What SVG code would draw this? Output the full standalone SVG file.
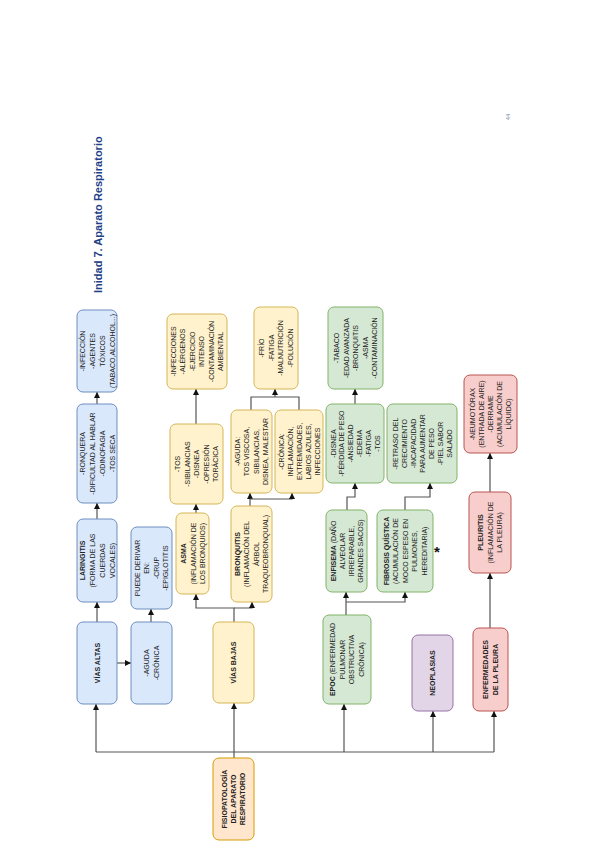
<svg xmlns="http://www.w3.org/2000/svg" width="600" height="848" viewBox="0 0 600 848">
<style>
.b{fill:#dae8fc;stroke:#6c8ebf;stroke-width:1}
.o{fill:#fff2cc;stroke:#d6b656;stroke-width:1}
.r{fill:#ffe6cc;stroke:#d79b00;stroke-width:1}
.g{fill:#d5e8d4;stroke:#82b366;stroke-width:1}
.p{fill:#e1d5e7;stroke:#9673a6;stroke-width:1}
.k{fill:#f8cecc;stroke:#b85450;stroke-width:1}
text{font-family:"Liberation Sans",Arial,sans-serif;font-size:7px;fill:#222;text-anchor:middle}
.bd{font-weight:bold}
.c path{fill:none;stroke:#555;stroke-width:1.2}
</style>
<defs>
<marker id="a" markerUnits="userSpaceOnUse" markerWidth="8" markerHeight="8" refX="6" refY="3" orient="auto">
<path d="M0,0 L6,3 L0,6 Z" fill="#111"/>
</marker>
</defs>
<rect width="600" height="848" fill="#fff"/>
<text transform="translate(102,293) rotate(-90)" style="font-size:11px;font-weight:bold;fill:#1f3f86;text-anchor:start">Inidad 7. Aparato Respiratorio</text>
<text transform="translate(510,117) rotate(-90)" style="font-size:6px;fill:#7a8aa8">44</text>
<g class="c">
<path d="M96,752 H494"/>
<path d="M96,752 V704" marker-end="url(#a)"/>
<path d="M234,758 V703" marker-end="url(#a)"/>
<path d="M344,752 V704" marker-end="url(#a)"/>
<path d="M433,752 V711" marker-end="url(#a)"/>
<path d="M494,752 V711" marker-end="url(#a)"/>
<path d="M97,622 V602" marker-end="url(#a)"/>
<path d="M97,519 V503" marker-end="url(#a)"/>
<path d="M97,404 V392" marker-end="url(#a)"/>
<path d="M117,663 H131" marker-end="url(#a)"/>
<path d="M151,622 V609" marker-end="url(#a)"/>
<path d="M234,622 V608 H196 V594" marker-end="url(#a)"/>
<path d="M234,608 H252 V602" marker-end="url(#a)"/>
<path d="M196,513 V504" marker-end="url(#a)"/>
<path d="M196,424 V389" marker-end="url(#a)"/>
<path d="M250,506 V493" marker-end="url(#a)"/>
<path d="M250,499 H292 V493" marker-end="url(#a)"/>
<path d="M251,410 V397 H299 V410"/>
<path d="M275,397 V389" marker-end="url(#a)"/>
<path d="M346,615 V592" marker-end="url(#a)"/>
<path d="M346,602 H405 V592" marker-end="url(#a)"/>
<path d="M347,510 V497 H355 V483" marker-end="url(#a)"/>
<path d="M355,404 V389" marker-end="url(#a)"/>
<path d="M405,510 V497 H430 V483" marker-end="url(#a)"/>
<path d="M490,628 V573" marker-end="url(#a)"/>
<path d="M490,492 V453" marker-end="url(#a)"/>
</g>
<g id="root"><rect class="r" x="213" y="758" width="41" height="82" rx="6"/>
<text class="bd" transform="rotate(-90 233.5 799)"><tspan x="233.5" y="792.7">FISIOPATOLOGÍA</tspan><tspan x="233.5" y="801.7">DEL APARATO</tspan><tspan x="233.5" y="810.7">RESPIRATORIO</tspan></text></g>
<g id="vias-altas"><rect class="b" x="77" y="622" width="40" height="82" rx="6"/>
<text class="bd" transform="rotate(-90 97 663)"><tspan x="97" y="665.5">VÍAS ALTAS</tspan></text></g>
<g id="aguda-cronica"><rect class="b" x="131" y="622" width="41" height="82" rx="6"/>
<text transform="rotate(-90 151.5 663)"><tspan x="151.5" y="660.5">-AGUDA</tspan><tspan x="151.5" y="670.5">-CRÓNICA</tspan></text></g>
<g id="laringitis"><rect class="b" x="77" y="519" width="40" height="83" rx="6"/>
<text transform="rotate(-90 97 560.5)"><tspan class="bd" x="97" y="548">LARINGITIS</tspan><tspan x="97" y="558">(FORMA DE LAS</tspan><tspan x="97" y="568">CUERDAS</tspan><tspan x="97" y="578">VOCALES)</tspan></text></g>
<g id="puede-derivar"><rect class="b" x="131" y="527" width="41" height="82" rx="6"/>
<text transform="rotate(-90 151.5 568)"><tspan x="151.5" y="556.3">PUEDE DERIVAR</tspan><tspan x="151.5" y="565.8">EN:</tspan><tspan x="151.5" y="575.3">-CRUP</tspan><tspan x="151.5" y="584.8">-EPIGLOTITIS</tspan></text></g>
<g id="laringitis-sintomas"><rect class="b" x="77" y="404" width="40" height="99" rx="6"/>
<text transform="rotate(-90 97 453.5)"><tspan x="97" y="441">-RONQUERA</tspan><tspan x="97" y="451">-DIFICULTAD AL HABLAR</tspan><tspan x="97" y="461">-ODINOFAGIA</tspan><tspan x="97" y="471">-TOS SECA</tspan></text></g>
<g id="laringitis-causas"><rect class="b" x="77" y="310" width="40" height="82" rx="6"/>
<text transform="rotate(-90 97 351)"><tspan x="97" y="338.5">-INFECCIÓN</tspan><tspan x="97" y="348.5">-AGENTES</tspan><tspan x="97" y="358.5">TÓXICOS</tspan><tspan x="97" y="368.5">(TABACO,ALCOHOL...)</tspan></text></g>
<g id="vias-bajas"><rect class="o" x="213" y="622" width="41" height="81" rx="6"/>
<text class="bd" transform="rotate(-90 233.5 662.5)"><tspan x="233.5" y="665">VÍAS BAJAS</tspan></text></g>
<g id="asma"><rect class="o" x="176" y="513" width="33" height="81" rx="6"/>
<text transform="rotate(-90 193 553.5)"><tspan class="bd" x="193" y="546.5">ASMA</tspan><tspan x="193" y="556">(INFLAMACIÓN DE</tspan><tspan x="193" y="565.5">LOS BRONQUIOS)</tspan></text></g>
<g id="asma-sintomas"><rect class="o" x="170" y="424" width="53" height="80" rx="6"/>
<text transform="rotate(-90 196.5 464)"><tspan x="196.5" y="447.5">-TOS</tspan><tspan x="196.5" y="457">-SIBILANCIAS</tspan><tspan x="196.5" y="466.5">-DISNEA</tspan><tspan x="196.5" y="476">-OPRESIÓN</tspan><tspan x="196.5" y="485.5">TORÁCICA</tspan></text></g>
<g id="asma-causas"><rect class="o" x="167" y="314" width="60" height="75" rx="6"/>
<text transform="rotate(-90 197 351.5)"><tspan x="197" y="330.3">-INFECCIONES</tspan><tspan x="197" y="339.8">-ALÉRGENOS</tspan><tspan x="197" y="349.3">-EJERCICIO</tspan><tspan x="197" y="358.8">INTENSO</tspan><tspan x="197" y="368.3">-CONTAMINACIÓN</tspan><tspan x="197" y="377.8">AMBIENTAL</tspan></text></g>
<g id="bronquitis"><rect class="o" x="231" y="506" width="41" height="96" rx="6"/>
<text transform="rotate(-90 251.5 554)"><tspan class="bd" x="251.5" y="542.3">BRONQUITIS</tspan><tspan x="251.5" y="551.8">(INFLAMACIÓN DEL</tspan><tspan x="251.5" y="561.3">ÁRBOL</tspan><tspan x="251.5" y="570.8">TRAQUEOBRONQUIAL)</tspan></text></g>
<g id="bronquitis-aguda"><rect class="o" x="231" y="410" width="41" height="83" rx="6"/>
<text transform="rotate(-90 251.5 451.5)"><tspan x="251.5" y="439.8">-AGUDA:</tspan><tspan x="251.5" y="449.3">TOS VISCOSA,</tspan><tspan x="251.5" y="458.8">SIBILANCIAS,</tspan><tspan x="251.5" y="468.3">DISNEA, MALESTAR</tspan></text></g>
<g id="bronquitis-cronica"><rect class="o" x="275" y="410" width="48" height="83" rx="6"/>
<text transform="rotate(-90 299 451.5)"><tspan x="299" y="436">-CRÓNICA:</tspan><tspan x="299" y="445">INFLAMACIÓN,</tspan><tspan x="299" y="454">EXTREMIDADES,</tspan><tspan x="299" y="463">LABIOS AZULES,</tspan><tspan x="299" y="472">INFECCIONES</tspan></text></g>
<g id="bronquitis-causas"><rect class="o" x="254" y="307" width="44" height="82" rx="6"/>
<text transform="rotate(-90 276 348)"><tspan x="276" y="336.3">-FRÍO</tspan><tspan x="276" y="345.8">-FATIGA</tspan><tspan x="276" y="355.3">-MALNUTRICIÓN</tspan><tspan x="276" y="364.8">-POLUCIÓN</tspan></text></g>
<g id="epoc"><rect class="g" x="323" y="615" width="48" height="89" rx="6"/>
<text transform="rotate(-90 347 659.5)"><tspan x="347" y="647.8"><tspan class="bd">EPOC</tspan> (ENFERMEDAD</tspan><tspan x="347" y="657.3">PULMONAR</tspan><tspan x="347" y="666.8">OBSTRUCTIVA</tspan><tspan x="347" y="676.3">CRÓNICA)</tspan></text></g>
<g id="enfisema"><rect class="g" x="326" y="510" width="41" height="82" rx="6"/>
<text transform="rotate(-90 346.5 551)"><tspan x="346.5" y="540"><tspan class="bd">ENFISEMA</tspan> (DAÑO</tspan><tspan x="346.5" y="549">ALVEOLAR</tspan><tspan x="346.5" y="558">IRREPARABLE,</tspan><tspan x="346.5" y="567">GRANDES SACOS)</tspan></text></g>
<g id="fibrosis"><rect class="g" x="377" y="510" width="56" height="82" rx="6"/>
<text transform="rotate(-90 405 551)"><tspan class="bd" x="405" y="534.5">FIBROSIS QUÍSTICA</tspan><tspan x="405" y="544">(ACUMULACIÓN DE</tspan><tspan x="405" y="553.5">MOCO ESPESO EN</tspan><tspan x="405" y="563">PULMONES,</tspan><tspan x="405" y="572.5">HEREDITARIA)</tspan></text>
<text transform="translate(437,557)" style="font-size:15px;font-weight:bold;fill:#111">*</text></g>
<g id="enfisema-sintomas"><rect class="g" x="326" y="404" width="58" height="79" rx="6"/>
<text transform="rotate(-90 355 443.5)"><tspan x="355" y="424">-DISNEA</tspan><tspan x="355" y="432.8">-PÉRDIDA DE PESO</tspan><tspan x="355" y="441.6">-ANSIEDAD</tspan><tspan x="355" y="450.4">-EDEMA</tspan><tspan x="355" y="459.2">-FATIGA</tspan><tspan x="355" y="468">-TOS</tspan></text></g>
<g id="enfisema-causas"><rect class="g" x="328" y="307" width="55" height="82" rx="6"/>
<text transform="rotate(-90 355.5 348)"><tspan x="355.5" y="331.5">-TABACO</tspan><tspan x="355.5" y="341">-EDAD AVANZADA</tspan><tspan x="355.5" y="350.5">-BRONQUITIS</tspan><tspan x="355.5" y="360">-ASMA</tspan><tspan x="355.5" y="369.5">-CONTAMINACIÓN</tspan></text></g>
<g id="fibrosis-sintomas"><rect class="g" x="387" y="404" width="70" height="79" rx="6"/>
<text transform="rotate(-90 422 443.5)"><tspan x="422" y="419">-RETRASO DEL</tspan><tspan x="422" y="428">CRECIMIENTO</tspan><tspan x="422" y="437">-INCAPACIDAD</tspan><tspan x="422" y="446">PARA AUMENTAR</tspan><tspan x="422" y="455">DE PESO</tspan><tspan x="422" y="464">-PIEL SABOR</tspan><tspan x="422" y="473">SALADO</tspan></text></g>
<g id="neoplasias"><rect class="p" x="412" y="635" width="41" height="76" rx="6"/>
<text class="bd" transform="rotate(-90 432.5 673)"><tspan x="432.5" y="675.5">NEOPLASIAS</tspan></text></g>
<g id="pleura"><rect class="k" x="473" y="628" width="35" height="83" rx="6"/>
<text class="bd" transform="rotate(-90 490.5 669.5)"><tspan x="490.5" y="667.3">ENFERMEDADES</tspan><tspan x="490.5" y="676.8">DE LA PLEURA</tspan></text></g>
<g id="pleuritis"><rect class="k" x="469" y="492" width="42" height="81" rx="6"/>
<text transform="rotate(-90 490 532.5)"><tspan class="bd" x="490" y="525.5">PLEURITIS</tspan><tspan x="490" y="535">(INFLAMACIÓN DE</tspan><tspan x="490" y="544.5">LA PLEURA)</tspan></text></g>
<g id="pleura-tipos"><rect class="k" x="464" y="375" width="53" height="78" rx="6"/>
<text transform="rotate(-90 490.5 414)"><tspan x="490.5" y="398.5">-NEUMOTÓRAX</tspan><tspan x="490.5" y="407.5">(ENTRADA DE AIRE)</tspan><tspan x="490.5" y="416.5">-DERRAME</tspan><tspan x="490.5" y="425.5">(ACUMULACIÓN DE</tspan><tspan x="490.5" y="434.5">LÍQUIDO)</tspan></text></g>
</svg>
